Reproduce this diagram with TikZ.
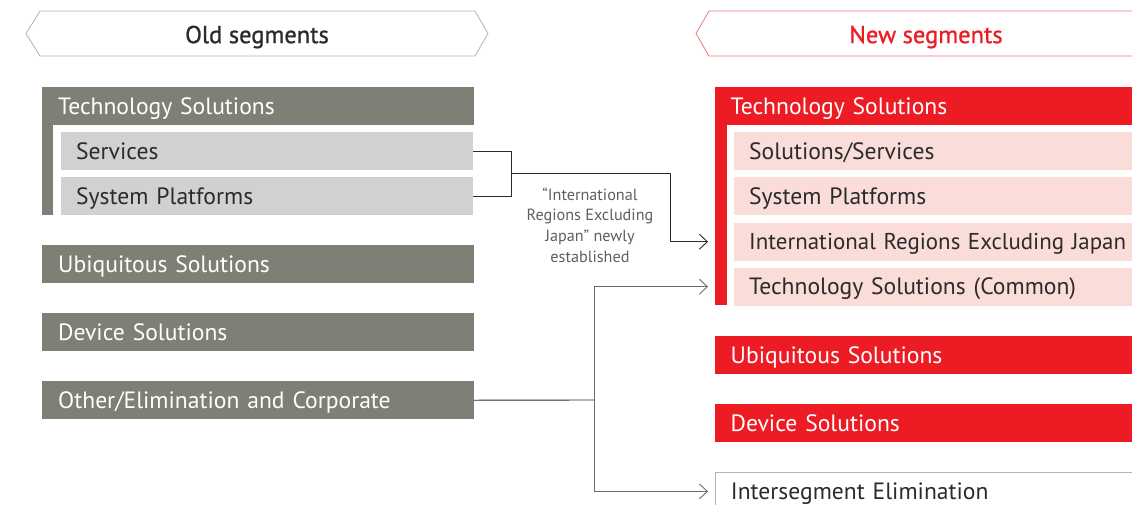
\documentclass[tikz,border=0pt]{standalone}
\usepackage{fontspec}
\setmainfont{PT Sans}
\newfontfamily\headfont[FakeBold=0.9]{PT Sans}
\usetikzlibrary{arrows.meta}
\definecolor{oldgray}{HTML}{807F75}
\definecolor{oldlight}{HTML}{D1D1CF}
\definecolor{newred}{HTML}{ED1C24}
\definecolor{newpink}{HTML}{FADCD9}
\definecolor{txtdark}{HTML}{2B2B2B}
\definecolor{notegray}{HTML}{5F5F5F}
\definecolor{bannergray}{HTML}{B4B4B4}
\definecolor{bannerred}{HTML}{F07A7E}
\begin{document}
\begin{tikzpicture}[x=1pt,y=-1pt,
  lbl/.style={font=\fontsize{23.6}{27}\selectfont},
  seg/.style={lbl, rectangle, anchor=north west, minimum height=38pt,
    inner ysep=0pt, align=left, text height=19pt, text depth=3pt},
  oldtop/.style={seg, fill=oldgray, text=white, inner xsep=16.5pt,
    minimum width=432pt, text width=399pt},
  oldsub/.style={seg, fill=oldlight, text=txtdark, inner xsep=15pt,
    minimum width=412pt, text width=382pt},
  newtop/.style={seg, fill=newred, text=white, inner xsep=15.5pt,
    minimum width=440pt, text width=409pt},
  newsub/.style={seg, fill=newpink, text=txtdark, inner xsep=15pt,
    minimum width=420pt, text width=390pt},
  newplain/.style={seg, fill=white, draw=bannergray, line width=0.8pt,
    text=txtdark, inner xsep=15.5pt, minimum width=440pt, text width=409pt},
  title/.style={font=\headfont\fontsize{24.5}{28}\selectfont},
  link/.style={draw=txtdark, line width=0.9pt},
  branch/.style={draw=gray!85!black, line width=0.9pt},
  tip/.style={-{Straight Barb[length=8pt,width=15pt,line width=0.9pt]}},
]
\clip (0,0) rectangle (1132,504);
\useasboundingbox (0,0) rectangle (1132,504);

% column banners
\draw[draw=bannergray, line width=0.8pt, fill=white]
  (26,33.5) -- (40,11) -- (475,11) -- (488,33.5) -- (475,56) -- (40,56) -- cycle;
\node[title, text=txtdark] (oldtitle) at (257,37) {Old segments};
\draw[draw=bannerred, line width=0.8pt, fill=white]
  (1140,11) -- (709,11) -- (696,33.5) -- (709,56) -- (1140,56);
\node[title, text=newred] (newtitle) at (926,37) {New segments};

% old segments
\fill[oldgray] (41.5,87) rectangle (53.3,215);
\node[oldtop] (ots) at (41.5,87) {Technology Solutions};
\node[oldsub] (osv) at (61,132) {Services};
\node[oldsub] (osp) at (61,177) {System Platforms};
\node[oldtop] (oub) at (41.5,245) {Ubiquitous Solutions};
\node[oldtop] (odv) at (41.5,313) {Device Solutions};
\node[oldtop] (oot) at (41.5,381) {Other/Elimination and Corporate};

% new segments
\fill[newred] (715,87) rectangle (727,305);
\node[newtop] (nts) at (715,87) {Technology Solutions};
\node[newsub] (nss) at (734,132) {Solutions/Services};
\node[newsub] (nsp) at (734,177) {System Platforms};
\node[newsub, font=\fontsize{22.9}{27}\selectfont] (nir) at (734,222.5) {International Regions Excluding Japan};
\node[newsub] (ntc) at (734,267.5) {Technology Solutions (Common)};
\node[newtop] (nub) at (715,336) {Ubiquitous Solutions};
\node[newtop] (ndv) at (715,404) {Device Solutions};
\node[newplain] (nie) at (715,472) {Intersegment Elimination};

% links between old and new
\coordinate (ja) at (511,173);
\coordinate (jb) at (670,173);
\coordinate (jc) at (594,400);
\path[link] (osv.east) -| (ja);
\path[link] (osp.east) -| (ja);
\path[link] (ja) -- (jb);
\path[link, tip] (jb) |- ([xshift=-26pt]nir.west);
\path[link] (oot.east) -- (jc);
\path[branch, tip] (jc) |- ([xshift=-26pt]ntc.west);
\path[branch, tip] (jc) |- ([xshift=-7pt]nie.west);

\node[font=\fontsize{16.2}{20.7}\selectfont, text=notegray, align=center]
  (note) at (590,225) {“International\\Regions Excluding\\Japan” newly\\established};
\end{tikzpicture}
\end{document}
